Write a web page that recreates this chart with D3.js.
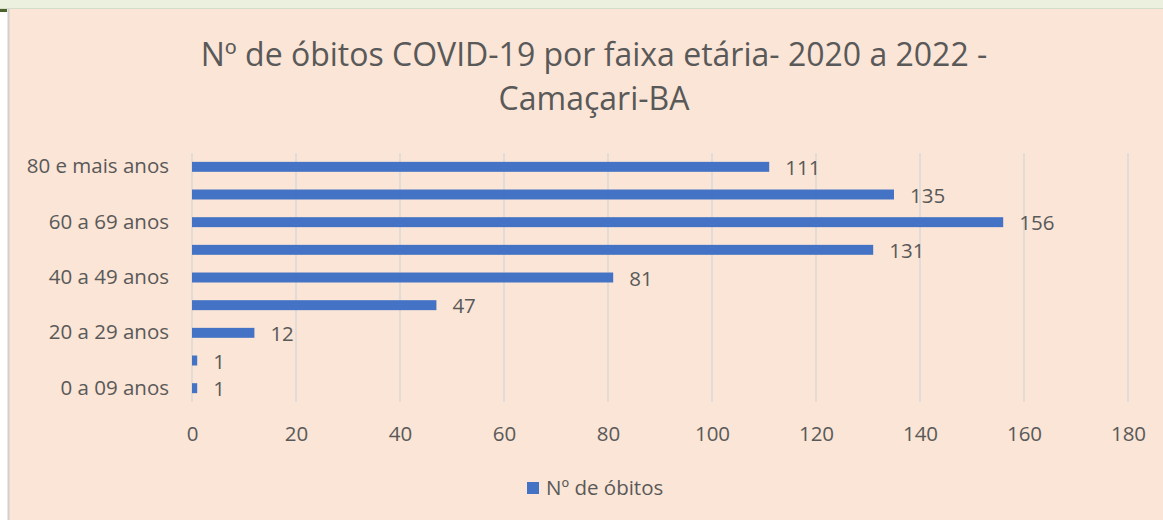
<!DOCTYPE html>
<html>
<head>
<meta charset="utf-8">
<title>Óbitos COVID-19 por faixa etária</title>
<style>
  body, html { margin: 0; padding: 0; background: #fff; }
  svg { display: block; font-family: "Open Sans", sans-serif; }
</style>
</head>
<body>
<svg id="svg" width="1163" height="520"></svg>
<script src="https://d3js.org/d3.v7.min.js"></script>
<script>
// data (top to bottom)
const faixas = ['80 e mais anos', '70 a 79 anos', '60 a 69 anos', '50 a 59 anos',
  '40 a 49 anos', '30 a 39 anos', '20 a 29 anos', '10 a 19 anos', '0 a 09 anos']
const obitos = [111, 135, 156, 131, 81, 47, 12, 1, 1]
const xTicks = [0, 20, 40, 60, 80, 100, 120, 140, 160, 180]
const titulo = ['Nº de óbitos COVID-19 por faixa etária- 2020 a 2022 -', 'Camaçari-BA']
const serieNome = 'Nº de óbitos'

const width = 1163
const height = 520
const plot = { left: 192, right: 1128, top: 153, bottom: 402 }
const textColor = '#595959'
const barColor = '#4472c4'
const font = '"Open Sans", sans-serif'
const labelSize = 20.5

const svg = d3.select('#svg')

// the frame of the sheet around the chart
svg.append('rect').attr('x', 0).attr('y', 0).attr('width', width).attr('height', 9).attr('fill', '#ebf1de')
svg.append('rect').attr('x', 0).attr('y', 9).attr('width', 8).attr('height', height).attr('fill', '#fff')
svg.append('rect').attr('x', 0).attr('y', 8).attr('width', 7).attr('height', 4).attr('fill', '#4f6228')
svg.append('rect').attr('x', 8).attr('y', 9).attr('width', width - 8).attr('height', height - 9)
  .attr('fill', '#fbe5d6')
svg.append('line').attr('x1', 0).attr('x2', width).attr('y1', 8.5).attr('y2', 8.5)
  .attr('stroke', '#d6dccb').attr('stroke-width', 1)
svg.append('line').attr('x1', 8.5).attr('x2', 8.5).attr('y1', 9).attr('y2', height)
  .attr('stroke', '#d0d0d0').attr('stroke-width', 2)

// title
svg.append('text')
  .attr('x', 594).attr('y', 66)
  .attr('text-anchor', 'middle')
  .attr('font-size', 32)
  .attr('fill', textColor)
  .selectAll('tspan')
  .data(titulo)
  .join('tspan')
  .attr('x', 594)
  .attr('dy', (d, i) => i === 0 ? 0 : 44)
  .text(d => d)

// scales
const x = d3.scaleLinear().domain([0, 180]).range([plot.left, plot.right])
const y = d3.scaleBand().domain(faixas).range([plot.top, plot.bottom]).paddingInner(0.64).paddingOuter(0.32)

// grid lines
svg.append('g')
  .selectAll('line')
  .data(xTicks)
  .join('line')
  .attr('x1', d => x(d)).attr('x2', d => x(d))
  .attr('y1', plot.top).attr('y2', plot.bottom)
  .attr('stroke', '#d9d9d9')
  .attr('stroke-width', 1.5)

// x axis, labels only
const xAxis = svg.append('g')
  .attr('transform', `translate(0, ${plot.bottom})`)
  .call(d3.axisBottom(x).tickValues(xTicks).tickSize(0).tickPadding(24))
xAxis.select('.domain').remove()
xAxis.selectAll('text').attr('font-size', labelSize).attr('fill', textColor).attr('font-family', font)

// y axis, every other category shown like the original
const yAxis = svg.append('g')
  .attr('transform', `translate(${plot.left}, 0)`)
  .call(d3.axisLeft(y).tickSize(0).tickPadding(23)
    .tickFormat((d, i) => i % 2 === 0 ? d : ''))
yAxis.select('.domain').remove()
yAxis.selectAll('text').attr('font-size', labelSize).attr('fill', textColor).attr('font-family', font)

// bars
const rows = faixas.map((f, i) => ({ faixa: f, valor: obitos[i] }))
svg.append('g')
  .selectAll('rect')
  .data(rows)
  .join('rect')
  .attr('x', x(0))
  .attr('y', d => y(d.faixa))
  .attr('width', d => x(d.valor) - x(0))
  .attr('height', y.bandwidth())
  .attr('fill', barColor)

// value labels
svg.append('g')
  .selectAll('text')
  .data(rows)
  .join('text')
  .attr('x', d => x(d.valor) + 16)
  .attr('y', d => y(d.faixa) + y.bandwidth() / 2 + 1)
  .attr('dy', '0.35em')
  .attr('font-size', labelSize)
  .attr('fill', textColor)
  .text(d => d.valor)

// legend
const legend = svg.append('g').attr('transform', 'translate(527, 488)')
legend.append('rect').attr('x', 0).attr('y', -6).attr('width', 12).attr('height', 12).attr('fill', barColor)
legend.append('text')
  .attr('x', 19).attr('y', 0).attr('dy', '0.35em')
  .attr('font-size', labelSize).attr('fill', textColor)
  .text(serieNome)
</script>
</body>
</html>
